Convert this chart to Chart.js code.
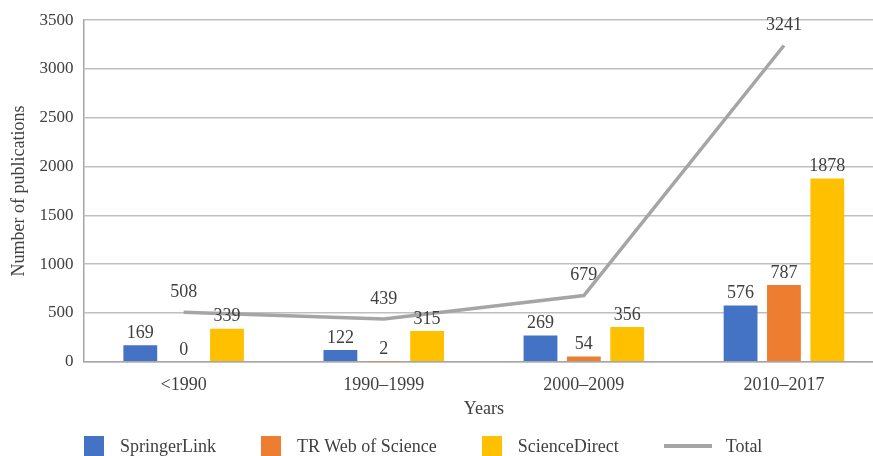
<!DOCTYPE html>
<html>
<head>
<meta charset="utf-8">
<script src="https://cdn.jsdelivr.net/npm/chart.js@4/dist/chart.umd.min.js"></script>
<style>
    body { margin: 0; background: #fff; }
    #wrap { position: relative; width: 873px; height: 456px; overflow: hidden; }
    #legend {
        position: absolute; left: 84px; top: 436px; height: 20px;
        display: flex; align-items: center;
        font-family: 'Liberation Serif', serif; font-size: 18px; color: #404040;
    }
    .item { display: flex; align-items: center; margin-right: 45px; }
    .swatch { width: 20px; height: 20px; margin-right: 16px; }
    .swatch.line { width: 48px; height: 4px; margin-right: 14px; }
</style>
</head>
<body>
<div id="wrap">
    <canvas id="chart" width="884" height="456"></canvas>
    <div id="legend"></div>
</div>
<script>
const categories = ['<1990', '1990\u20131999', '2000\u20132009', '2010\u20132017'];
const springerLink = [169, 122, 269, 576];
const webOfScience = [0, 2, 54, 787];
const scienceDirect = [339, 315, 356, 1878];
const total = [508, 439, 679, 3241];
const yTicks = [0, 500, 1000, 1500, 2000, 2500, 3000, 3500];

const FONT = "'Liberation Serif', serif";
const TEXT = '#404040';

// draws the number above each bar / line point
const valueLabels = {
    id: 'valueLabels',
    afterDatasetsDraw(chart) {
        const ctx = chart.ctx;
        ctx.save();
        ctx.font = '18px ' + FONT;
        ctx.fillStyle = TEXT;
        ctx.textAlign = 'center';
        ctx.textBaseline = 'middle';
        chart.data.datasets.forEach((ds, i) => {
            const meta = chart.getDatasetMeta(i);
            const off = ds.type === 'line' ? 20 : 12;
            meta.data.forEach((el, j) => {
                ctx.fillText(ds.data[j], el.x, el.y - off);
            });
        });
        ctx.restore();
    }
};

const datasets = [
    { label: 'SpringerLink', data: springerLink, backgroundColor: '#4472C4', order: 1 },
    { label: 'TR Web of Science', data: webOfScience, backgroundColor: '#ED7D31', order: 1 },
    { label: 'ScienceDirect', data: scienceDirect, backgroundColor: '#FFC000', order: 1 },
    { label: 'Total', type: 'line', data: total, borderColor: '#A5A5A5', borderWidth: 3.5,
      pointRadius: 0, tension: 0, order: 0 }
];

new Chart(document.getElementById('chart'), {
    type: 'bar',
    data: { labels: categories, datasets: datasets },
    options: {
        responsive: false,
        animation: false,
        layout: { padding: { left: 6, right: 0, top: 12, bottom: 36 } },
        datasets: { bar: { categoryPercentage: 0.65, barPercentage: 0.78 } },
        scales: {
            x: {
                grid: { display: false, drawTicks: false },
                border: { color: '#A6A6A6', width: 1.5 },
                ticks: { color: TEXT, font: { family: FONT, size: 18 }, padding: 13 },
                title: { display: true, text: 'Years', color: TEXT, font: { family: FONT, size: 18 }, padding: { top: -11, bottom: 0 } }
            },
            y: {
                min: 0, max: 3500,
                afterBuildTicks(axis) { axis.ticks = yTicks.map(v => ({ value: v })); },
                grid: { color: '#BFBFBF', lineWidth: 1.5, drawTicks: false },
                border: { color: '#A6A6A6', width: 1.5 },
                ticks: { color: TEXT, font: { family: FONT, size: 17 }, padding: 10, callback: v => String(v) },
                title: { display: true, text: 'Number of publications', color: TEXT, font: { family: FONT, size: 18 }, padding: { top: 2, bottom: 0 } }
            }
        },
        plugins: {
            legend: { display: false },
            tooltip: { enabled: false }
        }
    },
    plugins: [valueLabels]
});

// legend below the chart, built from the same dataset list
const legend = document.getElementById('legend');
datasets.forEach(ds => {
    const item = document.createElement('div');
    item.className = 'item';
    const sw = document.createElement('span');
    sw.className = ds.type === 'line' ? 'swatch line' : 'swatch';
    sw.style.background = ds.type === 'line' ? ds.borderColor : ds.backgroundColor;
    const txt = document.createElement('span');
    txt.textContent = ds.label;
    item.appendChild(sw);
    item.appendChild(txt);
    legend.appendChild(item);
});
</script>
</body>
</html>
